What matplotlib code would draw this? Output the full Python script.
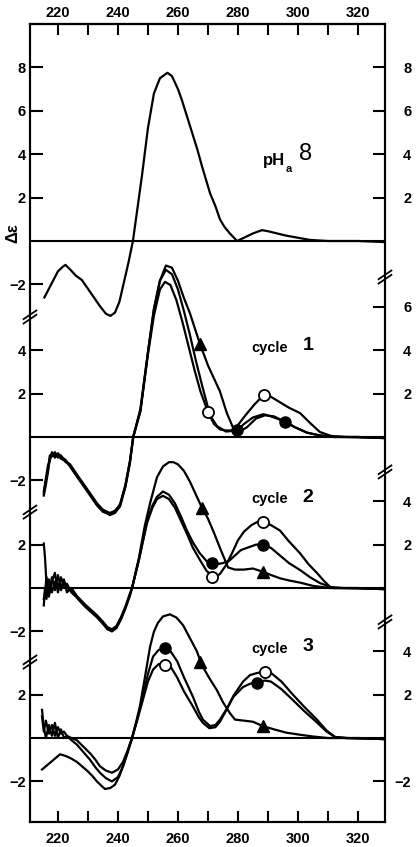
import matplotlib.pyplot as plt

plt.rcParams['font.family'] = ['Liberation Sans', 'DejaVu Sans']

# ---- data: wavelength (nm) and delta epsilon ----
ph8_wl = [215.5, 217, 218.5, 220, 221.5, 222.5, 224, 226, 228, 230, 232, 234, 236, 237.5, 239, 240.5,
          242, 243.5, 245, 246.5, 248, 250, 252, 254, 256.5, 258, 260, 261.3, 263, 264.7, 266.5, 268,
          270.7, 272.5, 274, 275.5, 277.3, 279.7, 282, 285, 288, 290, 293, 296, 300, 304, 310, 320, 329]
ph8_de = [-2.6, -2.2, -1.8, -1.4, -1.2, -1.1, -1.3, -1.6, -1.8, -2.2, -2.6, -3.0, -3.35, -3.45, -3.3, -2.8,
          -1.9, -1.0, 0.0, 1.5, 3.0, 5.2, 6.8, 7.5, 7.75, 7.6, 7.0, 6.5, 5.75, 5.0, 4.2, 3.45,
          2.2, 1.6, 1.0, 0.65, 0.35, 0.0, 0.15, 0.35, 0.5, 0.45, 0.35, 0.25, 0.15, 0.05, 0.0, 0.0, -0.05]

# cycle 1
c1_neg_wl = [215.3, 216, 216.7, 217.3, 218, 219, 220, 221, 222.5, 224, 226.7, 229, 231, 233, 235, 237.3,
             239, 240.7, 242.5, 244]
c1_tri_neg = [-2.7, -2.2, -1.6, -1.0, -0.8, -0.9, -0.75, -0.9, -1.05, -1.3, -1.85, -2.3, -2.7, -3.1, -3.4, -3.6,
              -3.5, -3.2, -2.3, -1.2]
c1_open_neg = [-2.5, -1.9, -1.3, -1.1, -0.7, -0.95, -0.8, -1.0, -1.1, -1.35, -1.9, -2.35, -2.75, -3.15, -3.45, -3.55,
               -3.45, -3.1, -2.2, -1.1]
c1_fill_neg = [-2.6, -2.0, -1.5, -0.85, -0.9, -0.7, -0.95, -0.85, -1.15, -1.25, -1.8, -2.25, -2.65, -3.05, -3.35, -3.5,
               -3.4, -3.15, -2.25, -1.15]

c1_tri_wl = [245.1, 247.5, 250, 252, 254, 256, 258, 260, 262, 264, 267.3, 270, 272, 274, 276.3, 278.3, 280,
             283, 286, 289, 292, 295.7, 299, 303, 307, 312, 320, 329]
c1_tri_de = [0.0, 1.3, 3.9, 5.9, 7.2, 7.9, 7.8, 7.2, 6.4, 5.7, 4.3, 3.3, 2.7, 2.1, 1.1, 0.45, 0.2,
             0.45, 0.85, 1.0, 0.95, 0.7, 0.45, 0.2, 0.08, 0.0, 0.0, -0.05]
c1_open_wl = [245.1, 247.5, 250, 252, 254, 255.7, 257.5, 259.5, 261.5, 263.5, 265.5, 267.5, 270, 272, 274,
              276, 278, 280, 282.5, 285.5, 288.7, 291, 294, 297, 300.7, 304, 307.3, 311, 316, 329]
c1_open_de = [0.0, 1.2, 3.8, 5.6, 6.8, 7.15, 7.0, 6.3, 5.3, 4.2, 3.1, 2.1, 1.15, 0.6, 0.35,
              0.3, 0.3, 0.55, 1.0, 1.5, 1.95, 1.85, 1.6, 1.35, 1.1, 0.65, 0.23, 0.05, 0.0, -0.05]
c1_fill_wl = [245.1, 247.5, 250, 252, 254, 256, 258, 260, 262, 264, 266, 268, 270.7, 273, 276, 279.7,
              282, 285, 288.5, 291, 293, 295.7, 299, 303, 307, 312, 320, 329]
c1_fill_de = [0.0, 1.2, 3.9, 5.9, 7.2, 7.7, 7.5, 6.8, 5.8, 4.7, 3.5, 2.4, 1.0, 0.5, 0.25, 0.3,
              0.6, 0.9, 1.05, 0.95, 0.85, 0.7, 0.45, 0.2, 0.08, 0.0, 0.0, -0.05]

# cycle 2
c2_neg_wl = [215.3, 215.7, 216.2, 217, 218, 219, 220, 221, 222, 223, 224.5, 226, 227.3, 229, 231, 233,
             235, 236.5, 238, 239.5, 241, 242.5, 244]
c2_fill_neg = [2.05, 1.4, 0.2, -0.4, 0.5, -0.1, 0.6, 0.0, 0.4, -0.2, 0.0, -0.3, -0.55, -0.8, -1.05, -1.3,
               -1.6, -1.85, -1.95, -1.8, -1.4, -0.9, -0.3]
c2_open_neg = [-0.5, -0.2, 0.5, -0.3, 0.3, 0.7, -0.2, 0.5, 0.1, 0.2, -0.2, -0.4, -0.6, -0.85, -1.1, -1.35,
               -1.65, -1.9, -2.0, -1.85, -1.45, -0.95, -0.35]
c2_tri_neg = [-0.8, 0.0, -0.5, 0.4, -0.2, 0.3, 0.2, -0.1, 0.3, 0.0, -0.1, -0.35, -0.5, -0.75, -1.0, -1.25,
              -1.55, -1.8, -1.9, -1.75, -1.35, -0.85, -0.25]

c2_tri_wl = [244.7, 247, 249, 250.7, 253, 255, 257, 258.5, 260, 262, 264, 266, 268, 270, 272, 274, 276.7,
             279, 282, 285, 288.3, 291, 294, 297, 300.7, 305, 310.7, 320, 329]
c2_tri_de = [0.0, 1.4, 2.9, 3.9, 5.1, 5.6, 5.8, 5.8, 5.7, 5.4, 4.9, 4.3, 3.7, 3.2, 2.55, 1.85, 0.95,
             0.85, 0.85, 0.9, 0.75, 0.6, 0.45, 0.35, 0.25, 0.1, 0.0, 0.0, -0.05]
c2_fill_wl = [244.7, 247, 249.7, 251.5, 253, 255, 257, 259, 261, 263, 265, 267.3, 269.5, 271.3, 273, 275,
              277, 279, 281, 284, 286, 288.3, 291, 294, 297, 300.7, 304, 307.3, 311.8, 320, 329]
c2_fill_de = [0.0, 1.3, 3.1, 3.8, 4.2, 4.45, 4.3, 3.9, 3.3, 2.65, 2.1, 1.6, 1.25, 1.15, 1.1, 1.15,
              1.25, 1.5, 1.75, 1.9, 2.0, 2.0, 1.85, 1.5, 1.15, 0.83, 0.5, 0.23, 0.0, 0.0, -0.05]
c2_open_wl = [244.7, 247, 249.7, 251.5, 253, 255, 257, 259, 261, 263, 265, 267.3, 269.5, 271.3, 272.5, 274,
              276, 278, 280, 282, 284.5, 286.5, 288.3, 291, 294, 297, 300.7, 303.5, 306.3, 308.5, 310.7, 315, 329]
c2_open_de = [0.0, 1.3, 3.0, 3.7, 4.1, 4.25, 4.1, 3.7, 3.1, 2.5, 1.85, 1.3, 0.8, 0.55, 0.5, 0.65,
              1.05, 1.6, 2.2, 2.6, 2.9, 3.05, 3.05, 2.9, 2.65, 2.15, 1.6, 1.1, 0.7, 0.35, 0.05, 0.0, -0.05]

# cycle 3
c3_neg_wl = [214.7, 215.3, 216, 217, 218, 219, 220, 221, 222, 223, 224.5, 226.3, 228.5, 230.7, 232.5, 234,
             236, 238, 240, 241.7, 243.3]
c3_open_neg = [1.0, 0.3, 0.8, 0.2, 0.6, 0.1, 0.5, 0.2, 0.3, 0.1, 0.0, -0.1, -0.4, -0.7, -1.0, -1.3,
               -1.5, -1.6, -1.45, -1.1, -0.55]
c3_fill_neg = [1.3, 0.5, 0.0, 0.6, 0.1, 0.7, 0.0, 0.4, 0.0, 0.1, -0.1, -0.3, -0.65, -1.0, -1.35, -1.6,
               -1.85, -2.0, -1.8, -1.3, -0.65]
c3_tri_neg_wl = [214.7, 217.3, 219, 220.7, 222, 223, 224.5, 226.3, 228, 229.7, 231.5, 233, 234.5, 235.7,
                 237.5, 239, 240.5, 241.7, 243.3]
c3_tri_neg = [-1.45, -1.15, -0.95, -0.75, -0.8, -0.85, -0.95, -1.1, -1.3, -1.5, -1.75, -2.0, -2.2, -2.35,
              -2.3, -2.15, -1.75, -1.3, -0.6]

c3_tri_wl = [244.7, 246, 247.3, 249, 250.7, 252, 253.3, 255, 257.3, 259.5, 261.7, 264, 266.3, 268, 270.5,
             273, 275, 277.3, 279, 282, 285, 288.3, 292, 296, 300.7, 305, 310, 320, 329]
c3_tri_de = [0.0, 0.7, 1.45, 2.8, 4.2, 4.9, 5.3, 5.6, 5.7, 5.55, 5.2, 4.6, 4.0, 3.35, 2.75,
             2.2, 1.65, 1.15, 0.85, 0.8, 0.75, 0.55, 0.4, 0.25, 0.15, 0.07, 0.0, 0.0, -0.05]
c3_fill_wl = [244.7, 246.5, 248.3, 250, 251.7, 253.5, 255.7, 257.5, 259.7, 262, 265, 267, 268.3, 270.7,
              272.5, 274, 276.3, 278.5, 281.7, 284, 286.3, 289, 291, 294.5, 298.3, 302, 306.3, 309.5,
              312.3, 316, 329]
c3_fill_de = [0.0, 0.9, 1.9, 2.95, 3.75, 4.05, 4.15, 4.0, 3.55, 2.8, 1.9, 1.2, 0.85, 0.55,
              0.6, 0.85, 1.35, 1.9, 2.35, 2.5, 2.55, 2.65, 2.6, 2.25, 1.75, 1.25, 0.72, 0.3,
              0.05, 0.0, -0.05]
c3_open_wl = [244.7, 246.5, 248.3, 250, 251.7, 253.5, 255.5, 257.5, 259.7, 262, 265, 267, 268.3, 270.5,
              272.5, 274, 276, 278.5, 281.7, 284, 286.5, 289, 291, 294.5, 298.3, 302, 306.3, 309.5,
              312.3, 316, 329]
c3_open_de = [0.0, 0.85, 1.75, 2.6, 3.15, 3.4, 3.45, 3.3, 2.8, 2.15, 1.45, 0.95, 0.7, 0.45,
              0.5, 0.75, 1.25, 1.95, 2.6, 2.9, 3.0, 3.05, 3.0, 2.6, 2.0, 1.45, 0.85, 0.35,
              0.05, 0.0, -0.05]

# marker positions (wavelength, delta epsilon)
c1_open_pts = ([270, 288.7], [1.15, 1.95])
c1_fill_pts = ([279.7, 295.7], [0.3, 0.7])
c1_tri_pts = ([267.3], [4.3])
c2_open_pts = ([271.3, 288.3], [0.5, 3.05])
c2_fill_pts = ([271.3, 288.3], [1.15, 2.0])
c2_tri_pts = ([268, 288.3], [3.7, 0.75])
c3_open_pts = ([255.7, 289], [3.35, 3.05])
c3_fill_pts = ([255.7, 286.3], [4.15, 2.55])
c3_tri_pts = ([267.3, 288.3], [3.5, 0.55])

# vertical offsets of each panel's zero line
offsets = [22.9, 13.87, 6.91, 0.0]
left_ticks = [[8, 6, 4, 2, -2], [4, 2, -2], [2, -2], [2, -2]]
right_ticks = [[8, 6, 4, 2], [6, 4, 2], [4, 2], [4, 2, -2]]
panel_names = ['8', '1', '2', '3']

fig = plt.figure(figsize=(4.16, 8.47), dpi=100)
ax = fig.add_axes([0.0721, 0.0295, 0.8534, 0.9422])
LW = 1.6


def curve(wl, de, off):
    ax.plot(wl, [d + off for d in de], color='black', lw=LW, solid_joinstyle='round')


def marks(pts, off, kind):
    wl, de = pts
    y = [d + off for d in de]
    if kind == 'open':
        ax.plot(wl, y, 'o', ms=8, mfc='white', mec='black', mew=1.3, zorder=5)
    elif kind == 'fill':
        ax.plot(wl, y, 'o', ms=8, mfc='black', mec='black', zorder=5)
    else:
        ax.plot(wl, y, '^', ms=9, mfc='black', mec='black', zorder=5)


for off in offsets:
    ax.axhline(off, color='black', lw=1.5)

# pHa 8
curve(ph8_wl, ph8_de, offsets[0])

# cycle 1
o = offsets[1]
curve(c1_neg_wl + c1_tri_wl, c1_tri_neg + c1_tri_de, o)
curve(c1_neg_wl + c1_open_wl, c1_open_neg + c1_open_de, o)
curve(c1_neg_wl + c1_fill_wl, c1_fill_neg + c1_fill_de, o)
marks(c1_open_pts, o, 'open')
marks(c1_fill_pts, o, 'fill')
marks(c1_tri_pts, o, 'tri')

# cycle 2
o = offsets[2]
curve(c2_neg_wl + c2_tri_wl, c2_tri_neg + c2_tri_de, o)
curve(c2_neg_wl + c2_open_wl, c2_open_neg + c2_open_de, o)
curve(c2_neg_wl + c2_fill_wl, c2_fill_neg + c2_fill_de, o)
marks(c2_open_pts, o, 'open')
marks(c2_fill_pts, o, 'fill')
marks(c2_tri_pts, o, 'tri')

# cycle 3
o = offsets[3]
curve(c3_tri_neg_wl + c3_tri_wl, c3_tri_neg + c3_tri_de, o)
curve(c3_neg_wl + c3_open_wl, c3_open_neg + c3_open_de, o)
curve(c3_neg_wl + c3_fill_wl, c3_fill_neg + c3_fill_de, o)
marks(c3_open_pts, o, 'open')
marks(c3_fill_pts, o, 'fill')
marks(c3_tri_pts, o, 'tri')

ax.set_xlim(210.7, 329)
ax.set_ylim(-3.87, 32.9)

tfont = dict(fontsize=10.5, fontweight='bold')
xt = list(range(220, 321, 10))
xl = [str(v) if v % 20 == 0 else '' for v in xt]
ax.set_xticks(xt)
ax.set_xticklabels(xl, **tfont)
ax.tick_params(axis='x', direction='in', length=8, width=1.5, pad=7)

top = ax.secondary_xaxis('top')
top.set_xticks(xt)
top.set_xticklabels(xl, **tfont)
top.tick_params(axis='x', direction='in', length=8, width=1.5, pad=3)
top.spines['top'].set_linewidth(1.5)

ly, ll = [], []
for off, vals in zip(offsets, left_ticks):
    for v in vals:
        ly.append(off + v)
        ll.append(str(v).replace('-', '\u2212'))
ax.set_yticks(ly)
ax.set_yticklabels(ll, **tfont)
ax.tick_params(axis='y', direction='in', length=9, width=1.5, pad=3)

ax2 = ax.twinx()
ax2.set_ylim(ax.get_ylim())
ry, rl = [], []
for off, vals in zip(offsets, right_ticks):
    for v in vals:
        ry.append(off + v)
        rl.append(str(v).replace('-', '\u2212'))
ax2.set_yticks(ry)
ax2.set_yticklabels(rl, ha='right', **tfont)
ax2.tick_params(axis='y', direction='in', length=9, width=1.5, pad=19)

for a in (ax, ax2):
    for s in a.spines.values():
        s.set_linewidth(1.5)

# axis break marks
ytr = ax.get_yaxis_transform()


def brk(xa, yd):
    dx, dy, gap = 0.018, 0.2, 0.1
    ax.fill([xa - dx, xa + dx, xa + dx, xa - dx],
            [yd - dy - gap, yd + dy - gap, yd + dy + gap, yd - dy + gap],
            color='white', transform=ytr, clip_on=False, zorder=10, lw=0)
    for s in (-gap, gap):
        ax.plot([xa - dx, xa + dx], [yd - dy + s, yd + dy + s], color='black', lw=1.3,
                transform=ytr, clip_on=False, zorder=11)


for yb in (19.4, 10.41, 3.5):
    brk(0.0, yb)
for yb in (21.24, 12.26, 5.35):
    brk(1.0, yb)

# panel labels
ax.text(288.2, 26.6, 'pH', fontsize=12, fontweight='bold', ha='left', va='center')
ax.text(296.0, 26.2, 'a', fontsize=8, fontweight='bold', ha='left', va='center')
ax.text(300.5, 26.9, '8', fontsize=17, ha='left', va='center')
for off, name, yt in zip(offsets[1:], panel_names[1:], (17.97, 11.0, 4.1)):
    ax.text(284.5, yt, 'cycle', fontsize=10.5, fontweight='bold', ha='left', va='center')
    ax.text(301.5, yt + 0.1, name, fontsize=14, fontweight='bold', ha='left', va='center')

fig.text(0.03, 1 - 233 / 847, '\u0394\u03b5', rotation=90, ha='center', va='center',
         fontsize=12, fontweight='bold')

fig.savefig('out.png', dpi=100)
